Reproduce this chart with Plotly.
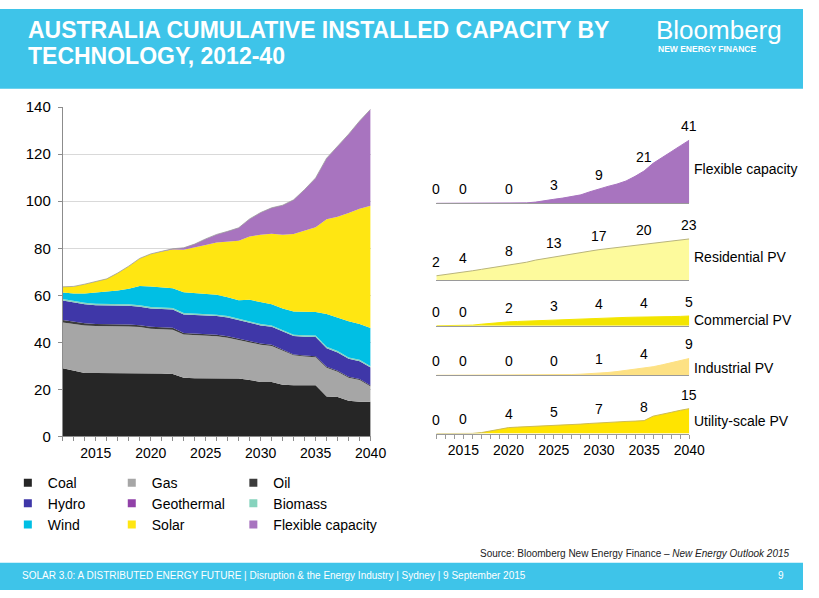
import plotly.graph_objects as go

# ---------------- DATA ----------------
years = list(range(2012, 2041))

coal = [29.0, 28.0, 27.0, 27.0, 27.0, 27.0, 27.0, 27.0, 26.8, 26.8, 26.6, 25.0, 24.8, 24.8, 24.8,
        24.8, 24.6, 24.0, 23.2, 23.2, 22.0, 21.8, 21.8, 21.8, 17.0, 16.8, 15.2, 14.8, 14.8]
gas = [19.5, 19.8, 20.2, 20.0, 20.0, 19.9, 19.8, 19.5, 19.0, 18.8, 18.8, 18.4, 18.3, 18.2, 17.8,
       17.2, 16.4, 16.0, 15.8, 15.3, 14.5, 12.7, 12.2, 11.9, 12.2, 10.7, 9.8, 9.2, 6.5]
oil = [1.0, 1.0, 0.9, 0.8, 0.8, 0.8, 0.8, 0.8, 0.8, 0.8, 0.8, 0.6, 0.6, 0.6, 0.6,
       0.6, 0.5, 0.5, 0.5, 0.5, 0.5, 0.4, 0.4, 0.4, 0.4, 0.4, 0.4, 0.4, 0.4]
hydro = [8.3, 8.2, 8.1, 8.0, 8.0, 8.0, 8.0, 7.9, 7.8, 7.8, 7.8, 7.9, 8.0, 8.0, 8.0,
         8.0, 8.0, 7.9, 7.7, 7.6, 7.6, 7.8, 8.0, 8.2, 7.9, 7.8, 7.6, 7.6, 7.6]
geothermal = [0.0, 0.0, 0.0, 0.0, 0.0, 0.0, 0.0, 0.0, 0.0, 0.0, 0.0, 0.0, 0.0, 0.0, 0.0,
              0.0, 0.0, 0.0, 0.0, 0.0, 0.0, 0.0, 0.0, 0.0, 0.0, 0.0, 0.0, 0.0, 0.0]
biomass = [0.6, 0.6, 0.6, 0.6, 0.6, 0.6, 0.6, 0.6, 0.6, 0.6, 0.6, 0.6, 0.6, 0.6, 0.6,
           0.6, 0.6, 0.6, 0.6, 0.6, 0.6, 0.6, 0.6, 0.6, 0.6, 0.6, 0.6, 0.6, 0.6]
wind = [2.8, 3.2, 4.0, 4.8, 5.0, 5.8, 6.6, 8.2, 8.8, 8.6, 8.4, 8.8, 8.6, 8.4, 8.5,
        8.0, 7.8, 9.1, 9.4, 9.0, 9.2, 9.8, 10.0, 10.0, 14.0, 14.2, 15.4, 15.2, 16.2]

residential_pv = [2.4, 3.0, 3.9, 4.4, 5.2, 6.0, 6.8, 7.5, 8.2, 9.1, 10.0, 11.2, 12.1, 13.0, 13.8,
                  14.6, 15.4, 16.2, 17.0, 17.6, 18.2, 18.8, 19.4, 20.0, 20.6, 21.2, 21.8, 22.4, 23.0]
commercial_pv = [0.0, 0.0, 0.05, 0.1, 0.3, 0.8, 1.3, 1.7, 2.0, 2.2, 2.4, 2.6, 2.8, 3.0, 3.2,
                 3.4, 3.6, 3.8, 4.0, 4.1, 4.2, 4.3, 4.4, 4.4, 4.5, 4.6, 4.7, 4.8, 5.0]
industrial_pv = [0.0, 0.0, 0.0, 0.0, 0.0, 0.0, 0.0, 0.0, 0.0, 0.0, 0.0, 0.0, 0.0, 0.1, 0.2,
                 0.4, 0.6, 0.8, 1.1, 1.5, 2.0, 2.6, 3.2, 3.8, 4.6, 5.6, 6.7, 7.8, 9.0]
utility_pv = [0.0, 0.0, 0.0, 0.1, 0.1, 0.6, 1.5, 2.5, 3.6, 3.9, 4.1, 4.3, 4.5, 4.7, 5.0,
              5.3, 5.7, 6.1, 6.5, 6.8, 7.0, 7.3, 7.5, 7.8, 10.5, 11.5, 12.8, 14.0, 15.0]
flexible = [0.0, 0.0, 0.0, 0.0, 0.0, 0.0, 0.0, 0.0, 0.0, 0.1, 0.3, 0.8, 1.5, 2.6, 3.4,
            4.3, 5.5, 7.5, 9.4, 11.0, 12.5, 14.5, 17.5, 21.0, 26.0, 30.0, 33.5, 37.3, 41.0]

solar = [r + c + i + u for r, c, i, u in zip(residential_pv, commercial_pv, industrial_pv, utility_pv)]

label_years = [2012, 2015, 2020, 2025, 2030, 2035, 2040]

# ---------------- STYLE / LAYOUT HELPERS ----------------
W, H = 819, 598
FONT = "Arial, Liberation Sans, sans-serif"
BLUE = "#3ec4e9"


def px_x(p):
    return p / W


def px_y(p):
    return 1 - p / H


main_series = [
    ("Coal", coal, "#262626"),
    ("Gas", gas, "#a6a6a6"),
    ("Oil", oil, "#3c3c3c"),
    ("Hydro", hydro, "#3f37a8"),
    ("Geothermal", geothermal, "#9141a8"),
    ("Biomass", biomass, "#86d3bd"),
    ("Wind", wind, "#00bfe4"),
    ("Solar", solar, "#ffe612"),
    ("Flexible capacity", flexible, "#a874bf"),
]

fig = go.Figure()

for name, vals, col in main_series:
    line = dict(width=0, color=col)
    if name == "Flexible capacity":
        line = dict(width=0.8, color="#9c9c9c")
    fig.add_trace(go.Scatter(x=years, y=vals, name=name, stackgroup="main", mode="lines",
                             line=line, fillcolor=col, showlegend=False, hoverinfo="skip",
                             xaxis="x", yaxis="y"))

# small multiples on the right
panels = [
    # name, values, fill, line, baseline px, px per GW, height px, label y px
    ("Flexible capacity", flexible, "#a874bf", "#a874bf", 200, 1.585, 75, 165),
    ("Residential PV", residential_pv, "#fdfa9c", "#b9b47c", 279, 1.84, 50, 255),
    ("Commercial PV", commercial_pv, "#f3e500", "#f3e500", 326, 2.0, 30, 320),
    ("Industrial PV", industrial_pv, "#fde184", "#fde184", 377, 1.92, 30, 370),
    ("Utility-scale PV", utility_pv, "#ffe400", "#cdbb55", 437, 1.71, 40, 424),
]

annotations = []
axes = {}
for k, (name, vals, fillc, linec, base, scale, hgt, lab_y) in enumerate(panels):
    n = k + 2
    fig.add_trace(go.Scatter(x=years, y=vals, mode="lines", fill="tozeroy", fillcolor=fillc,
                             line=dict(width=1, color=linec), showlegend=False, hoverinfo="skip",
                             xaxis=f"x{n}", yaxis=f"y{n}"))
    last = (k == len(panels) - 1)
    axes[f"xaxis{n}"] = dict(
        domain=[px_x(445), px_x(703)], range=[2012, 2040], anchor=f"y{n}",
        showline=True, linecolor="#9a9a9a", linewidth=1, showgrid=False, zeroline=False,
        showticklabels=last, tick0=2015, dtick=5,
        ticks="outside" if last else "", ticklen=4, tickcolor="#9a9a9a",
        minor=dict(dtick=1, ticks="outside", ticklen=4, tickcolor="#9a9a9a") if last else dict(ticks=""),
        tickfont=dict(size=14, family=FONT, color="black"),
        matches="x2" if n > 2 else None,
    )
    axes[f"yaxis{n}"] = dict(domain=[px_y(base), px_y(base - hgt)], range=[0, hgt / scale],
                             anchor=f"x{n}", visible=False)
    for yr in label_years:
        v = vals[years.index(yr)]
        annotations.append(dict(x=yr, y=v, xref=f"x{n}", yref=f"y{n}", text=str(int(v + 0.5)),
                                showarrow=False, yanchor="bottom", yshift=4,
                                font=dict(size=14, family=FONT, color="black")))
    annotations.append(dict(x=px_x(706), y=px_y(lab_y), xref="paper", yref="paper", text=name,
                            showarrow=False, xanchor="left", yanchor="middle",
                            font=dict(size=14, family=FONT, color="black")))

# legend: 3 columns x 3 rows, one legend per entry for exact placement
legend_pos = {
    "Coal": (48, 488), "Gas": (154, 488), "Oil": (278, 488),
    "Hydro": (48, 509), "Geothermal": (154, 509), "Biomass": (278, 509),
    "Wind": (48, 531), "Solar": (154, 531), "Flexible capacity": (278, 531),
}
legends = {}
for idx, (name, vals, col) in enumerate(main_series):
    lid = "legend" if idx == 0 else f"legend{idx + 1}"
    fig.add_trace(go.Scatter(x=[None], y=[None], mode="markers", name=name,
                             marker=dict(symbol="square", size=8, color=col),
                             legend=lid, showlegend=True, xaxis="x", yaxis="y"))
    tx, ty = legend_pos[name]
    legends[lid] = dict(x=px_x(tx - 40), y=px_y(ty), xanchor="left", yanchor="middle",
                        bgcolor="rgba(0,0,0,0)", borderwidth=0, itemwidth=30,
                        font=dict(size=14, family=FONT, color="black"))

# header / footer bands
shapes = [
    dict(type="rect", xref="paper", yref="paper", x0=0, x1=1, y0=px_y(82), y1=1,
         fillcolor=BLUE, line=dict(width=0), layer="below"),
    dict(type="rect", xref="paper", yref="paper", x0=0, x1=1, y0=0, y1=px_y(570),
         fillcolor=BLUE, line=dict(width=0), layer="below"),
]

annotations += [
    dict(x=px_x(27), y=px_y(22), xref="paper", yref="paper", xanchor="left", yanchor="middle",
         text="<b>AUSTRALIA CUMULATIVE INSTALLED CAPACITY BY</b>", showarrow=False,
         font=dict(size=23, family=FONT, color="white")),
    dict(x=px_x(27), y=px_y(48), xref="paper", yref="paper", xanchor="left", yanchor="middle",
         text="<b>TECHNOLOGY, 2012-40</b>", showarrow=False,
         font=dict(size=23, family=FONT, color="white")),
    dict(x=px_x(667), y=px_y(22), xref="paper", yref="paper", xanchor="left", yanchor="middle",
         text="Bloomberg", showarrow=False, font=dict(size=26, family=FONT, color="white")),
    dict(x=px_x(669), y=px_y(41), xref="paper", yref="paper", xanchor="left", yanchor="middle",
         text="<b>NEW ENERGY FINANCE</b>", showarrow=False,
         font=dict(size=8.5, family=FONT, color="white")),
    dict(x=px_x(808), y=px_y(560), xref="paper", yref="paper", xanchor="right", yanchor="middle",
         text="Source: Bloomberg New Energy Finance – <i>New Energy Outlook 2015</i>", showarrow=False,
         font=dict(size=10, family=FONT, color="#222")),
    dict(x=px_x(20), y=px_y(583), xref="paper", yref="paper", xanchor="left", yanchor="middle",
         text="SOLAR 3.0: A DISTRIBUTED ENERGY FUTURE | Disruption &amp; the Energy Industry | Sydney | 9 September 2015",
         showarrow=False, font=dict(size=10, family=FONT, color="white")),
    dict(x=px_x(797), y=px_y(583), xref="paper", yref="paper", xanchor="center", yanchor="middle",
         text="9", showarrow=False, font=dict(size=10, family=FONT, color="white")),
]

fig.update_layout(
    width=W, height=H, margin=dict(l=0, r=0, t=0, b=0),
    paper_bgcolor="white", plot_bgcolor="white",
    font=dict(family=FONT, size=14, color="black"),
    xaxis=dict(domain=[px_x(64), px_x(378)], range=[2012, 2040], anchor="y",
               showline=True, linecolor="#8c8c8c", linewidth=1, showgrid=False, zeroline=False,
               tick0=2015, dtick=5, ticks="outside", ticklen=4, tickcolor="#8c8c8c",
               minor=dict(dtick=1, ticks="outside", ticklen=4, tickcolor="#8c8c8c"),
               tickfont=dict(size=14, family=FONT, color="black")),
    yaxis=dict(domain=[px_y(440), px_y(101)], range=[0, 140], anchor="x",
               showline=True, linecolor="#8c8c8c", linewidth=1, showgrid=True, gridcolor="#d9d9d9",
               zeroline=False, dtick=20, ticks="outside", ticklen=4, tickcolor="#8c8c8c",
               tickfont=dict(size=15, family=FONT, color="black"), ticklabelstandoff=4),
    shapes=shapes,
    annotations=annotations,
    showlegend=True,
    **axes,
    **legends,
)

fig.write_html("out.html")
